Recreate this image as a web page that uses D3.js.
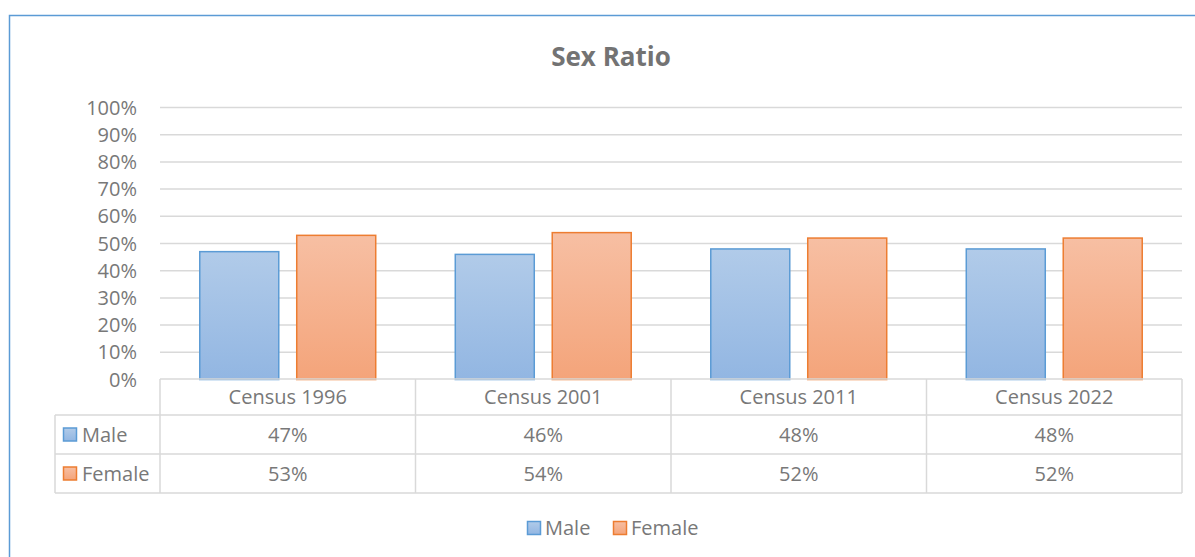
<!DOCTYPE html>
<html><head><meta charset="utf-8">
<script src="https://cdn.jsdelivr.net/npm/d3@7"></script>
<style>body{margin:0;background:#fff;}svg{display:block;font-family:"Open Sans",sans-serif;}</style>
</head><body>
<svg id="c" width="1195" height="557"></svg>
<script>
const categories = ["Census 1996","Census 2001","Census 2011","Census 2022"];
const seriesNames = ["Male","Female"];
const maleValues = [0.47,0.46,0.48,0.48];
const femaleValues = [0.53,0.54,0.52,0.52];
const yTicks = [0,0.1,0.2,0.3,0.4,0.5,0.6,0.7,0.8,0.9,1.0];
const title = "Sex Ratio";

const series = [
  {name:seriesNames[0], values:maleValues, stroke:"#5b9bd5", top:"#b1cbe9", bot:"#92b6e2"},
  {name:seriesNames[1], values:femaleValues, stroke:"#ed7d31", top:"#f7bfa3", bot:"#f4a47a"}
];
const svg = d3.select("#c");
const defs = svg.append("defs");
series.forEach((s,i)=>{
  const g = defs.append("linearGradient").attr("id","g"+i).attr("x1",0).attr("y1",0).attr("x2",0).attr("y2",1);
  g.append("stop").attr("offset","0%").attr("stop-color",s.top);
  g.append("stop").attr("offset","100%").attr("stop-color",s.bot);
});

// frame
svg.append("rect").attr("x",9.5).attr("y",15.5).attr("width",1200).attr("height",600)
  .attr("fill","#fff").attr("stroke","#5b9bd5").attr("stroke-width",1.5);

const L=160, R=1182, T=107, B=379;
const x = d3.scaleBand().domain(categories).range([L,R]);
const y = d3.scaleLinear().domain([0,1]).range([B,T]);
const inner = d3.scaleBand().domain(seriesNames).range([0,x.bandwidth()]).paddingInner(0.175).paddingOuter(0.405);

const textCol = "#787878";
const fs = 20;
svg.append("text").attr("x",611).attr("y",66).attr("text-anchor","middle")
  .attr("font-size",26).attr("font-weight","bold").attr("fill","#737373").text(title);

// grid
svg.append("g").selectAll("line").data(yTicks.filter(d=>d>0)).join("line")
  .attr("x1",L).attr("x2",R).attr("y1",d=>y(d)+0.5).attr("y2",d=>y(d)+0.5)
  .attr("stroke","#d9d9d9").attr("stroke-width",1.5);

// y axis labels
const yAxis = d3.axisLeft(y).tickValues(yTicks).tickFormat(d3.format(".0%")).tickSize(0).tickPadding(0);
const ya = svg.append("g").attr("transform",`translate(${L-23},0)`).call(yAxis);
ya.select(".domain").remove();
ya.selectAll("text").attr("font-size",fs).attr("fill",textCol).attr("font-family","Open Sans, sans-serif").attr("dy","0.35em");

// bars
series.forEach((s,i)=>{
  svg.append("g").selectAll("rect").data(categories).join("rect")
    .attr("x",(c)=>x(c)+inner(s.name)+0.5)
    .attr("y",(c,j)=>y(s.values[j])+0.5)
    .attr("width",inner.bandwidth()-1)
    .attr("height",(c,j)=>B-y(s.values[j]))
    .attr("fill",`url(#g${i})`).attr("stroke",s.stroke).attr("stroke-width",1.5);
});

// data table
const rowTops=[379,415,454,493];
const tl = svg.append("g").attr("stroke","#d9d9d9").attr("stroke-width",1.5);
tl.append("line").attr("x1",L).attr("x2",R).attr("y1",379).attr("y2",379);
[415,454,493].forEach(v=>tl.append("line").attr("x1",55).attr("x2",R).attr("y1",v).attr("y2",v));
categories.forEach(c=>tl.append("line").attr("x1",x(c)).attr("x2",x(c)).attr("y1",379).attr("y2",493));
tl.append("line").attr("x1",R).attr("x2",R).attr("y1",379).attr("y2",493);
tl.append("line").attr("x1",55).attr("x2",55).attr("y1",415).attr("y2",493);

const fmt = d3.format(".0%");
svg.append("g").selectAll("text").data(categories).join("text")
  .attr("x",c=>x(c)+x.bandwidth()/2).attr("y",(rowTops[0]+rowTops[1])/2).attr("dy","0.35em")
  .attr("text-anchor","middle").attr("font-size",fs).attr("fill",textCol).text(c=>c);
series.forEach((s,i)=>{
  const cy=(rowTops[i+1]+rowTops[i+2])/2;
  svg.append("g").selectAll("text").data(categories).join("text")
    .attr("x",c=>x(c)+x.bandwidth()/2).attr("y",cy).attr("dy","0.35em")
    .attr("text-anchor","middle").attr("font-size",fs).attr("fill",textCol).text((c,j)=>fmt(s.values[j]));
  svg.append("rect").attr("x",63.5).attr("y",cy-6.5).attr("width",13).attr("height",13)
    .attr("fill",`url(#g${i})`).attr("stroke",s.stroke).attr("stroke-width",1.5);
  svg.append("text").attr("x",82).attr("y",cy).attr("dy","0.35em").attr("font-size",fs).attr("fill",textCol).text(s.name);
});

// legend
const lg = [{x:527},{x:613}];
series.forEach((s,i)=>{
  svg.append("rect").attr("x",lg[i].x+0.5).attr("y",521.5).attr("width",13).attr("height",13)
    .attr("fill",`url(#g${i})`).attr("stroke",s.stroke).attr("stroke-width",1.5);
  svg.append("text").attr("x",lg[i].x+18).attr("y",528).attr("dy","0.35em").attr("font-size",fs).attr("fill",textCol).text(s.name);
});
</script>
</body></html>
